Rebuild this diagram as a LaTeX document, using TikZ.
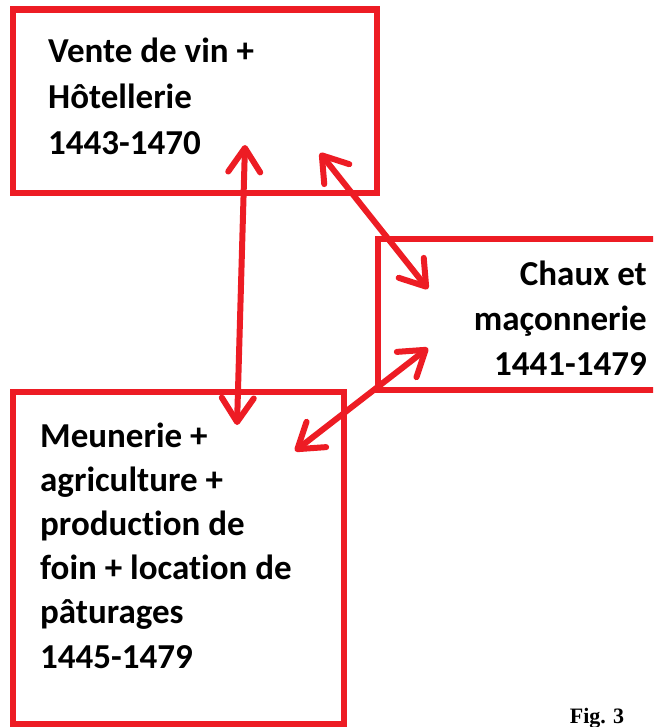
\documentclass[tikz,border=0pt]{standalone}
\usepackage{fontspec}
\setmainfont{Carlito}[Ligatures=NoCommon]
\newfontfamily\figfont{Liberation Serif}
\usetikzlibrary{arrows.meta}
\definecolor{boxred}{RGB}{237,28,36}

\begin{document}
\begin{tikzpicture}[x=1pt,y=-1pt,>={Straight Barb[length=24pt,width=32pt,line cap=round,line join=round]}]
		  \tikzstyle{box}=[draw=boxred,line width=6.5pt,inner sep=0pt,rectangle]
		  \tikzstyle{label}=[inner sep=0pt,text=black,font=\bfseries]
		  \tikzstyle{link}=[<->,draw=boxred,line width=6pt]

		  \useasboundingbox (0,0) rectangle (653,727);
		  \clip (0,0) rectangle (653,727);

		  % the three boxes
		  \node[box,minimum width=364pt,minimum height=183.5pt] (vente) at (195,101.25) {};
		  \node[box,minimum width=302pt,minimum height=151pt] (chaux) at (529,314.5) {};
		  \node[box,minimum width=331pt,minimum height=332.5pt] (meunerie) at (178.5,558.25) {};

		  \node[label,anchor=base west] (vente-txt) at (48,63)
		    {\fontsize{35}{46}\selectfont\begin{tabular}[t]{@{}l@{}}Vente de vin +\\Hôtellerie\\1443-1470\end{tabular}};
		  \node[label,anchor=base east] (chaux-txt) at (647,285)
		    {\fontsize{35}{45}\selectfont\begin{tabular}[t]{@{}r@{}}Chaux et\\maçonnerie\\1441-1479\end{tabular}};
		  \node[label,anchor=base west] (meunerie-txt) at (40,447)
		    {\fontsize{35}{44.2}\selectfont\begin{tabular}[t]{@{}l@{}}Meunerie +\\agriculture +\\production de\\foin + location de\\pâturages\\1445-1479\end{tabular}};

		  \node[inner sep=0pt,anchor=base] (fig) at (597,723) {\figfont\bfseries\fontsize{22}{26}\selectfont Fig. 3};

		  % arrow ends
		  \coordinate (vente-s) at (245,145);
		  \coordinate (vente-e) at (320,153);
		  \coordinate (chaux-n) at (428,289);
		  \coordinate (chaux-s) at (428,348);
		  \coordinate (meunerie-n) at (237,425);
		  \coordinate (meunerie-e) at (295,451);

		  \draw[link] (vente-s) -- (meunerie-n);
		  \draw[link] (vente-e) -- (chaux-n);
		  \draw[link] (chaux-s) -- (meunerie-e);
\end{tikzpicture}
\end{document}
